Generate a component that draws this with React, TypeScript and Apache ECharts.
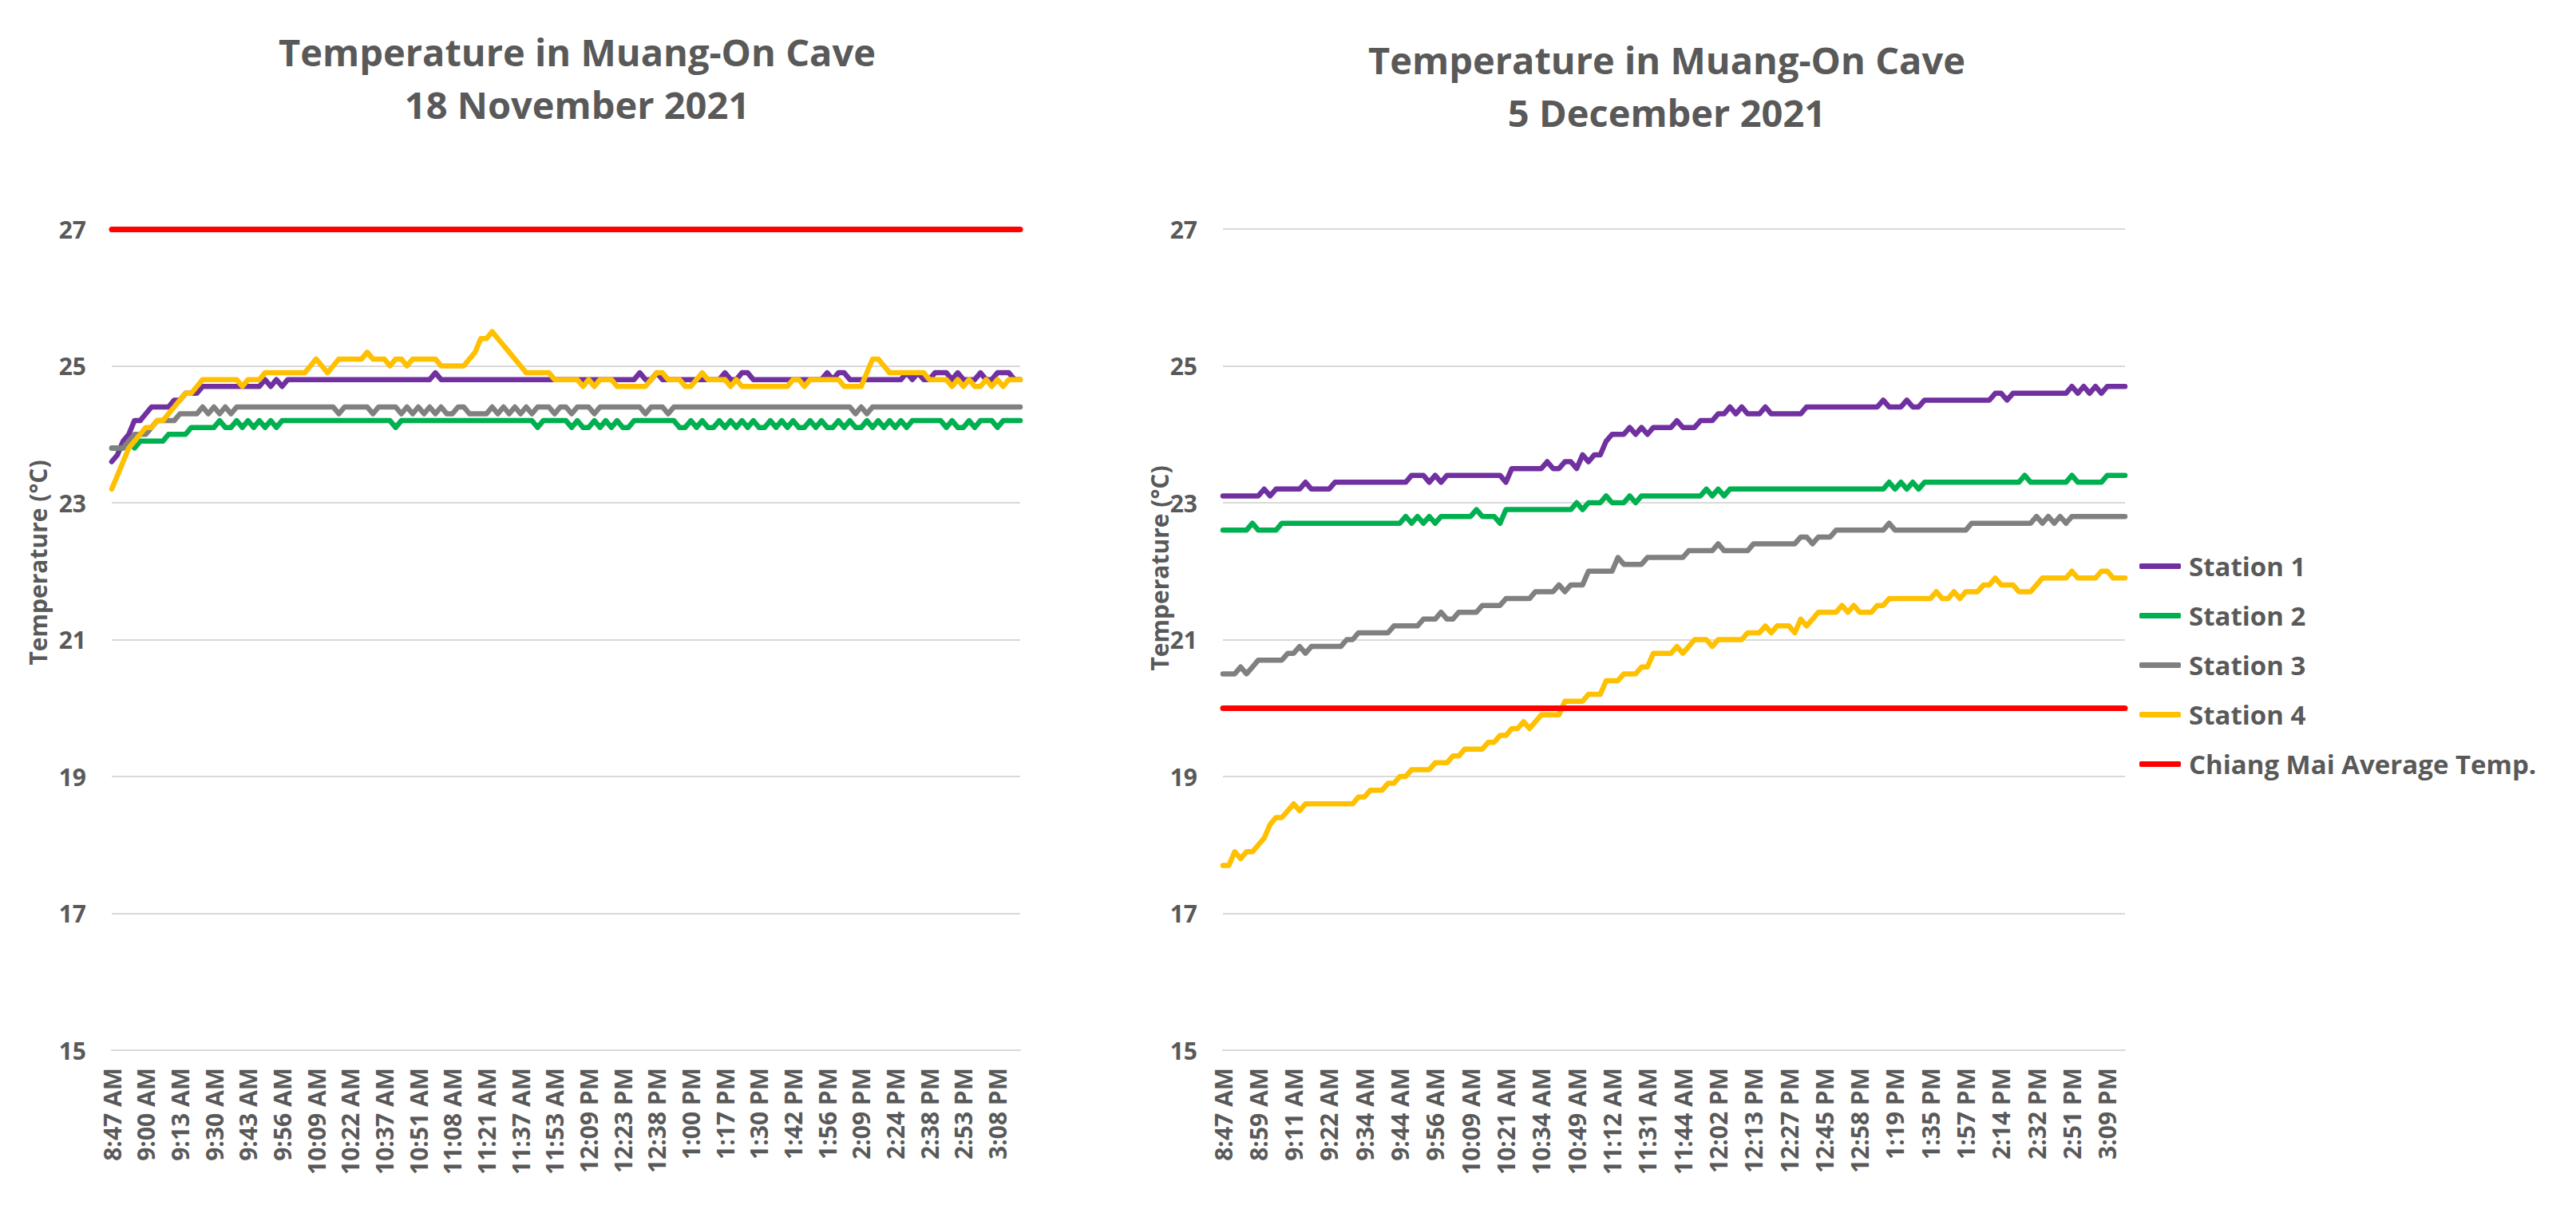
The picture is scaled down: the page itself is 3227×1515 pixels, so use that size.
import React, { useEffect, useRef } from "react";
import * as echarts from "echarts";

// ---------- tick labels ----------
const NOV_TICKS = [
  "8:47 AM", "9:00 AM", "9:13 AM", "9:30 AM", "9:43 AM", "9:56 AM", "10:09 AM",
  "10:22 AM", "10:37 AM", "10:51 AM", "11:08 AM", "11:21 AM", "11:37 AM", "11:53 AM",
  "12:09 PM", "12:23 PM", "12:38 PM", "1:00 PM", "1:17 PM", "1:30 PM", "1:42 PM",
  "1:56 PM", "2:09 PM", "2:24 PM", "2:38 PM", "2:53 PM", "3:08 PM",
];
const DEC_TICKS = [
  "8:47 AM", "8:59 AM", "9:11 AM", "9:22 AM", "9:34 AM", "9:44 AM", "9:56 AM",
  "10:09 AM", "10:21 AM", "10:34 AM", "10:49 AM", "11:12 AM", "11:31 AM", "11:44 AM",
  "12:02 PM", "12:13 PM", "12:27 PM", "12:45 PM", "12:58 PM", "1:19 PM", "1:35 PM",
  "1:57 PM", "2:14 PM", "2:32 PM", "2:51 PM", "3:09 PM",
];
// one tick label every 6 samples
const SAMPLES_PER_TICK = 6;

const SERIES_NAMES = ["Station 1", "Station 2", "Station 3", "Station 4"];
const AVG_NAME = "Chiang Mai Average Temp.";
const NOV_AVERAGE = 27;
const DEC_AVERAGE = 20;

// ---------- 18 November 2021 ----------
const NOV_STATION_1 = [
  23.6, 23.7, 23.9, 24.0, 24.2, 24.2, 24.3, 24.4, 24.4, 24.4,
  24.4, 24.5, 24.5, 24.6, 24.6, 24.6, 24.7, 24.7, 24.7, 24.7,
  24.7, 24.7, 24.7, 24.7, 24.7, 24.7, 24.7, 24.8, 24.7, 24.8,
  24.7, 24.8, 24.8, 24.8, 24.8, 24.8, 24.8, 24.8, 24.8, 24.8,
  24.8, 24.8, 24.8, 24.8, 24.8, 24.8, 24.8, 24.8, 24.8, 24.8,
  24.8, 24.8, 24.8, 24.8, 24.8, 24.8, 24.8, 24.9, 24.8, 24.8,
  24.8, 24.8, 24.8, 24.8, 24.8, 24.8, 24.8, 24.8, 24.8, 24.8,
  24.8, 24.8, 24.8, 24.8, 24.8, 24.8, 24.8, 24.8, 24.8, 24.8,
  24.8, 24.8, 24.8, 24.8, 24.8, 24.8, 24.8, 24.8, 24.8, 24.8,
  24.8, 24.8, 24.8, 24.9, 24.8, 24.8, 24.9, 24.8, 24.8, 24.8,
  24.8, 24.8, 24.8, 24.8, 24.8, 24.8, 24.8, 24.8, 24.9, 24.8,
  24.8, 24.9, 24.9, 24.8, 24.8, 24.8, 24.8, 24.8, 24.8, 24.8,
  24.8, 24.8, 24.8, 24.8, 24.8, 24.8, 24.9, 24.8, 24.9, 24.9,
  24.8, 24.8, 24.8, 24.8, 24.8, 24.8, 24.8, 24.8, 24.8, 24.8,
  24.9, 24.8, 24.9, 24.8, 24.8, 24.9, 24.9, 24.9, 24.8, 24.9,
  24.8, 24.8, 24.8, 24.9, 24.8, 24.8, 24.9, 24.9, 24.9, 24.8,
  24.8,
];
const NOV_STATION_2 = [
  23.8, 23.8, 23.8, 23.9, 23.8, 23.9, 23.9, 23.9, 23.9, 23.9,
  24.0, 24.0, 24.0, 24.0, 24.1, 24.1, 24.1, 24.1, 24.1, 24.2,
  24.1, 24.1, 24.2, 24.1, 24.2, 24.1, 24.2, 24.1, 24.2, 24.1,
  24.2, 24.2, 24.2, 24.2, 24.2, 24.2, 24.2, 24.2, 24.2, 24.2,
  24.2, 24.2, 24.2, 24.2, 24.2, 24.2, 24.2, 24.2, 24.2, 24.2,
  24.1, 24.2, 24.2, 24.2, 24.2, 24.2, 24.2, 24.2, 24.2, 24.2,
  24.2, 24.2, 24.2, 24.2, 24.2, 24.2, 24.2, 24.2, 24.2, 24.2,
  24.2, 24.2, 24.2, 24.2, 24.2, 24.1, 24.2, 24.2, 24.2, 24.2,
  24.2, 24.1, 24.2, 24.1, 24.1, 24.2, 24.1, 24.2, 24.1, 24.2,
  24.1, 24.1, 24.2, 24.2, 24.2, 24.2, 24.2, 24.2, 24.2, 24.2,
  24.1, 24.1, 24.2, 24.1, 24.2, 24.1, 24.1, 24.2, 24.1, 24.2,
  24.1, 24.2, 24.1, 24.2, 24.1, 24.1, 24.2, 24.1, 24.2, 24.1,
  24.2, 24.1, 24.1, 24.2, 24.1, 24.2, 24.1, 24.1, 24.2, 24.1,
  24.2, 24.1, 24.1, 24.2, 24.1, 24.2, 24.1, 24.2, 24.1, 24.2,
  24.1, 24.2, 24.2, 24.2, 24.2, 24.2, 24.2, 24.1, 24.2, 24.1,
  24.1, 24.2, 24.1, 24.2, 24.2, 24.2, 24.1, 24.2, 24.2, 24.2,
  24.2,
];
const NOV_STATION_3 = [
  23.8, 23.8, 23.8, 23.9, 24.0, 24.0, 24.0, 24.1, 24.2, 24.2,
  24.2, 24.2, 24.3, 24.3, 24.3, 24.3, 24.4, 24.3, 24.4, 24.3,
  24.4, 24.3, 24.4, 24.4, 24.4, 24.4, 24.4, 24.4, 24.4, 24.4,
  24.4, 24.4, 24.4, 24.4, 24.4, 24.4, 24.4, 24.4, 24.4, 24.4,
  24.3, 24.4, 24.4, 24.4, 24.4, 24.4, 24.3, 24.4, 24.4, 24.4,
  24.4, 24.3, 24.4, 24.3, 24.4, 24.3, 24.4, 24.3, 24.4, 24.3,
  24.3, 24.4, 24.4, 24.3, 24.3, 24.3, 24.3, 24.4, 24.3, 24.4,
  24.3, 24.4, 24.3, 24.4, 24.3, 24.4, 24.4, 24.4, 24.3, 24.4,
  24.4, 24.3, 24.4, 24.4, 24.4, 24.3, 24.4, 24.4, 24.4, 24.4,
  24.4, 24.4, 24.4, 24.4, 24.3, 24.4, 24.4, 24.4, 24.3, 24.4,
  24.4, 24.4, 24.4, 24.4, 24.4, 24.4, 24.4, 24.4, 24.4, 24.4,
  24.4, 24.4, 24.4, 24.4, 24.4, 24.4, 24.4, 24.4, 24.4, 24.4,
  24.4, 24.4, 24.4, 24.4, 24.4, 24.4, 24.4, 24.4, 24.4, 24.4,
  24.4, 24.3, 24.4, 24.3, 24.4, 24.4, 24.4, 24.4, 24.4, 24.4,
  24.4, 24.4, 24.4, 24.4, 24.4, 24.4, 24.4, 24.4, 24.4, 24.4,
  24.4, 24.4, 24.4, 24.4, 24.4, 24.4, 24.4, 24.4, 24.4, 24.4,
  24.4,
];
const NOV_STATION_4 = [
  23.2, 23.4, 23.6, 23.8, 23.9, 24.0, 24.1, 24.1, 24.2, 24.2,
  24.3, 24.4, 24.5, 24.6, 24.6, 24.7, 24.8, 24.8, 24.8, 24.8,
  24.8, 24.8, 24.8, 24.7, 24.8, 24.8, 24.8, 24.9, 24.9, 24.9,
  24.9, 24.9, 24.9, 24.9, 24.9, 25.0, 25.1, 25.0, 24.9, 25.0,
  25.1, 25.1, 25.1, 25.1, 25.1, 25.2, 25.1, 25.1, 25.1, 25.0,
  25.1, 25.1, 25.0, 25.1, 25.1, 25.1, 25.1, 25.1, 25.0, 25.0,
  25.0, 25.0, 25.0, 25.1, 25.2, 25.4, 25.4, 25.5, 25.4, 25.3,
  25.2, 25.1, 25.0, 24.9, 24.9, 24.9, 24.9, 24.9, 24.8, 24.8,
  24.8, 24.8, 24.8, 24.7, 24.8, 24.7, 24.8, 24.8, 24.8, 24.7,
  24.7, 24.7, 24.7, 24.7, 24.7, 24.8, 24.9, 24.9, 24.8, 24.8,
  24.8, 24.7, 24.7, 24.8, 24.9, 24.8, 24.8, 24.8, 24.8, 24.7,
  24.8, 24.7, 24.7, 24.7, 24.7, 24.7, 24.7, 24.7, 24.7, 24.7,
  24.8, 24.8, 24.7, 24.8, 24.8, 24.8, 24.8, 24.8, 24.8, 24.7,
  24.7, 24.7, 24.7, 24.9, 25.1, 25.1, 25.0, 24.9, 24.9, 24.9,
  24.9, 24.9, 24.9, 24.9, 24.8, 24.8, 24.8, 24.8, 24.7, 24.8,
  24.7, 24.8, 24.7, 24.7, 24.8, 24.7, 24.8, 24.7, 24.8, 24.8,
  24.8,
];

// ---------- 5 December 2021 ----------
const DEC_STATION_1 = [
  23.1, 23.1, 23.1, 23.1, 23.1, 23.1, 23.1, 23.2, 23.1, 23.2,
  23.2, 23.2, 23.2, 23.2, 23.3, 23.2, 23.2, 23.2, 23.2, 23.3,
  23.3, 23.3, 23.3, 23.3, 23.3, 23.3, 23.3, 23.3, 23.3, 23.3,
  23.3, 23.3, 23.4, 23.4, 23.4, 23.3, 23.4, 23.3, 23.4, 23.4,
  23.4, 23.4, 23.4, 23.4, 23.4, 23.4, 23.4, 23.4, 23.3, 23.5,
  23.5, 23.5, 23.5, 23.5, 23.5, 23.6, 23.5, 23.5, 23.6, 23.6,
  23.5, 23.7, 23.6, 23.7, 23.7, 23.9, 24.0, 24.0, 24.0, 24.1,
  24.0, 24.1, 24.0, 24.1, 24.1, 24.1, 24.1, 24.2, 24.1, 24.1,
  24.1, 24.2, 24.2, 24.2, 24.3, 24.3, 24.4, 24.3, 24.4, 24.3,
  24.3, 24.3, 24.4, 24.3, 24.3, 24.3, 24.3, 24.3, 24.3, 24.4,
  24.4, 24.4, 24.4, 24.4, 24.4, 24.4, 24.4, 24.4, 24.4, 24.4,
  24.4, 24.4, 24.5, 24.4, 24.4, 24.4, 24.5, 24.4, 24.4, 24.5,
  24.5, 24.5, 24.5, 24.5, 24.5, 24.5, 24.5, 24.5, 24.5, 24.5,
  24.5, 24.6, 24.6, 24.5, 24.6, 24.6, 24.6, 24.6, 24.6, 24.6,
  24.6, 24.6, 24.6, 24.6, 24.7, 24.6, 24.7, 24.6, 24.7, 24.6,
  24.7, 24.7, 24.7, 24.7,
];
const DEC_STATION_2 = [
  22.6, 22.6, 22.6, 22.6, 22.6, 22.7, 22.6, 22.6, 22.6, 22.6,
  22.7, 22.7, 22.7, 22.7, 22.7, 22.7, 22.7, 22.7, 22.7, 22.7,
  22.7, 22.7, 22.7, 22.7, 22.7, 22.7, 22.7, 22.7, 22.7, 22.7,
  22.7, 22.8, 22.7, 22.8, 22.7, 22.8, 22.7, 22.8, 22.8, 22.8,
  22.8, 22.8, 22.8, 22.9, 22.8, 22.8, 22.8, 22.7, 22.9, 22.9,
  22.9, 22.9, 22.9, 22.9, 22.9, 22.9, 22.9, 22.9, 22.9, 22.9,
  23.0, 22.9, 23.0, 23.0, 23.0, 23.1, 23.0, 23.0, 23.0, 23.1,
  23.0, 23.1, 23.1, 23.1, 23.1, 23.1, 23.1, 23.1, 23.1, 23.1,
  23.1, 23.1, 23.2, 23.1, 23.2, 23.1, 23.2, 23.2, 23.2, 23.2,
  23.2, 23.2, 23.2, 23.2, 23.2, 23.2, 23.2, 23.2, 23.2, 23.2,
  23.2, 23.2, 23.2, 23.2, 23.2, 23.2, 23.2, 23.2, 23.2, 23.2,
  23.2, 23.2, 23.2, 23.3, 23.2, 23.3, 23.2, 23.3, 23.2, 23.3,
  23.3, 23.3, 23.3, 23.3, 23.3, 23.3, 23.3, 23.3, 23.3, 23.3,
  23.3, 23.3, 23.3, 23.3, 23.3, 23.3, 23.4, 23.3, 23.3, 23.3,
  23.3, 23.3, 23.3, 23.3, 23.4, 23.3, 23.3, 23.3, 23.3, 23.3,
  23.4, 23.4, 23.4, 23.4,
];
const DEC_STATION_3 = [
  20.5, 20.5, 20.5, 20.6, 20.5, 20.6, 20.7, 20.7, 20.7, 20.7,
  20.7, 20.8, 20.8, 20.9, 20.8, 20.9, 20.9, 20.9, 20.9, 20.9,
  20.9, 21.0, 21.0, 21.1, 21.1, 21.1, 21.1, 21.1, 21.1, 21.2,
  21.2, 21.2, 21.2, 21.2, 21.3, 21.3, 21.3, 21.4, 21.3, 21.3,
  21.4, 21.4, 21.4, 21.4, 21.5, 21.5, 21.5, 21.5, 21.6, 21.6,
  21.6, 21.6, 21.6, 21.7, 21.7, 21.7, 21.7, 21.8, 21.7, 21.8,
  21.8, 21.8, 22.0, 22.0, 22.0, 22.0, 22.0, 22.2, 22.1, 22.1,
  22.1, 22.1, 22.2, 22.2, 22.2, 22.2, 22.2, 22.2, 22.2, 22.3,
  22.3, 22.3, 22.3, 22.3, 22.4, 22.3, 22.3, 22.3, 22.3, 22.3,
  22.4, 22.4, 22.4, 22.4, 22.4, 22.4, 22.4, 22.4, 22.5, 22.5,
  22.4, 22.5, 22.5, 22.5, 22.6, 22.6, 22.6, 22.6, 22.6, 22.6,
  22.6, 22.6, 22.6, 22.7, 22.6, 22.6, 22.6, 22.6, 22.6, 22.6,
  22.6, 22.6, 22.6, 22.6, 22.6, 22.6, 22.6, 22.7, 22.7, 22.7,
  22.7, 22.7, 22.7, 22.7, 22.7, 22.7, 22.7, 22.7, 22.8, 22.7,
  22.8, 22.7, 22.8, 22.7, 22.8, 22.8, 22.8, 22.8, 22.8, 22.8,
  22.8, 22.8, 22.8, 22.8,
];
const DEC_STATION_4 = [
  17.7, 17.7, 17.9, 17.8, 17.9, 17.9, 18.0, 18.1, 18.3, 18.4,
  18.4, 18.5, 18.6, 18.5, 18.6, 18.6, 18.6, 18.6, 18.6, 18.6,
  18.6, 18.6, 18.6, 18.7, 18.7, 18.8, 18.8, 18.8, 18.9, 18.9,
  19.0, 19.0, 19.1, 19.1, 19.1, 19.1, 19.2, 19.2, 19.2, 19.3,
  19.3, 19.4, 19.4, 19.4, 19.4, 19.5, 19.5, 19.6, 19.6, 19.7,
  19.7, 19.8, 19.7, 19.8, 19.9, 19.9, 19.9, 19.9, 20.1, 20.1,
  20.1, 20.1, 20.2, 20.2, 20.2, 20.4, 20.4, 20.4, 20.5, 20.5,
  20.5, 20.6, 20.6, 20.8, 20.8, 20.8, 20.8, 20.9, 20.8, 20.9,
  21.0, 21.0, 21.0, 20.9, 21.0, 21.0, 21.0, 21.0, 21.0, 21.1,
  21.1, 21.1, 21.2, 21.1, 21.2, 21.2, 21.2, 21.1, 21.3, 21.2,
  21.3, 21.4, 21.4, 21.4, 21.4, 21.5, 21.4, 21.5, 21.4, 21.4,
  21.4, 21.5, 21.5, 21.6, 21.6, 21.6, 21.6, 21.6, 21.6, 21.6,
  21.6, 21.7, 21.6, 21.6, 21.7, 21.6, 21.7, 21.7, 21.7, 21.8,
  21.8, 21.9, 21.8, 21.8, 21.8, 21.7, 21.7, 21.7, 21.8, 21.9,
  21.9, 21.9, 21.9, 21.9, 22.0, 21.9, 21.9, 21.9, 21.9, 22.0,
  22.0, 21.9, 21.9, 21.9,
];

// ---------- styling ----------
const FONT = '"Open Sans", "Noto Sans", sans-serif';
const TEXT_COLOR = "#595959";
const GRID_COLOR = "#D9D9D9";
const STATION_COLORS = ["#7030A0", "#00B050", "#808080", "#FFC000"];
const AVG_COLOR = "#FF0000";

function makeXAxis(gridIndex: number, ticks: string[], count: number) {
  return {
    type: "category",
    gridIndex,
    boundaryGap: false,
    data: Array.from({ length: count }, (_, i) => String(i)),
    axisLine: { show: true, lineStyle: { color: GRID_COLOR, width: 2 } },
    axisTick: { show: false },
    splitLine: { show: false },
    axisLabel: {
      interval: (index: number) => index % SAMPLES_PER_TICK === 0,
      formatter: (value: string) => {
        const i = Number(value);
        return i % SAMPLES_PER_TICK === 0 ? ticks[i / SAMPLES_PER_TICK] ?? "" : "";
      },
      rotate: 90,
      margin: 22,
      color: TEXT_COLOR,
      fontSize: 30,
      fontWeight: "bold",
      fontFamily: FONT,
    },
  };
}

function makeYAxis(gridIndex: number) {
  return {
    type: "value",
    gridIndex,
    min: 15,
    max: 27,
    interval: 2,
    axisLine: { show: false },
    axisTick: { show: false },
    splitLine: { show: true, lineStyle: { color: GRID_COLOR, width: 2 } },
    axisLabel: {
      margin: 32,
      color: TEXT_COLOR,
      fontSize: 30,
      fontWeight: "bold",
      fontFamily: FONT,
    },
  };
}

function stationSeries(name: string, data: number[], color: string, axis: number) {
  return {
    name,
    type: "line",
    xAxisIndex: axis,
    yAxisIndex: axis,
    data,
    symbol: "none",
    showSymbol: false,
    color,
    itemStyle: { color },
    lineStyle: { color, width: 6.5, cap: "round", join: "round" },
    emphasis: { disabled: true },
    silent: true,
    z: 2,
  };
}

function averageSeries(value: number, axis: number) {
  return {
    name: AVG_NAME,
    type: "line",
    xAxisIndex: axis,
    yAxisIndex: axis,
    data: [],
    symbol: "none",
    color: AVG_COLOR,
    itemStyle: { color: AVG_COLOR },
    lineStyle: { color: AVG_COLOR, width: 7 },
    silent: true,
    z: 3,
    markLine: {
      silent: true,
      symbol: ["none", "none"],
      label: { show: false },
      emphasis: { disabled: true },
      lineStyle: { color: AVG_COLOR, width: 7, type: "solid", cap: "round" },
      data: [{ yAxis: value }],
    },
  };
}

function titleStyle() {
  return {
    color: TEXT_COLOR,
    fontSize: 47,
    fontWeight: "bold",
    fontFamily: FONT,
    lineHeight: 66,
  };
}

function axisName(x: number, y: number) {
  return {
    type: "text",
    x,
    y,
    rotation: Math.PI / 2,
    style: {
      text: "Temperature (°C)",
      fill: TEXT_COLOR,
      fontSize: 30,
      fontWeight: "bold",
      fontFamily: FONT,
      align: "center",
      verticalAlign: "middle",
    },
  };
}

function buildOption() {
  const novStations = [NOV_STATION_1, NOV_STATION_2, NOV_STATION_3, NOV_STATION_4];
  const decStations = [DEC_STATION_1, DEC_STATION_2, DEC_STATION_3, DEC_STATION_4];
  return {
    animation: false,
    backgroundColor: "#FFFFFF",
    title: [
      {
        text: "Temperature in Muang-On Cave\n18 November 2021",
        left: 718,
        top: 27,
        textAlign: "center",
        textStyle: titleStyle(),
      },
      {
        text: "Temperature in Muang-On Cave\n5 December 2021",
        left: 2083,
        top: 37,
        textAlign: "center",
        textStyle: titleStyle(),
      },
    ],
    grid: [
      { left: 140, top: 287, width: 1138, height: 1029 },
      { left: 1532, top: 287, width: 1130, height: 1029 },
    ],
    xAxis: [
      makeXAxis(0, NOV_TICKS, NOV_STATION_1.length),
      makeXAxis(1, DEC_TICKS, DEC_STATION_1.length),
    ],
    yAxis: [makeYAxis(0), makeYAxis(1)],
    legend: {
      orient: "vertical",
      left: 2675,
      top: 688,
      itemWidth: 52,
      itemHeight: 7,
      itemGap: 29,
      icon: "roundRect",
      selectedMode: false,
      data: [...SERIES_NAMES, AVG_NAME],
      textStyle: {
        color: TEXT_COLOR,
        fontSize: 33,
        fontWeight: "bold",
        fontFamily: FONT,
        lineHeight: 33,
        padding: [0, 0, 0, 5],
      },
    },
    graphic: [axisName(47, 705), axisName(1452, 712)],
    series: [
      ...novStations.map((d, i) => stationSeries(SERIES_NAMES[i], d, STATION_COLORS[i], 0)),
      averageSeries(NOV_AVERAGE, 0),
      ...decStations.map((d, i) => stationSeries(SERIES_NAMES[i], d, STATION_COLORS[i], 1)),
      averageSeries(DEC_AVERAGE, 1),
    ],
  };
}

export default function App() {
  const ref = useRef<HTMLDivElement>(null);
  useEffect(() => {
    document.body.style.margin = "0";
    if (!ref.current) return;
    const chart = echarts.init(ref.current, null, { renderer: "svg" });
    chart.setOption(buildOption() as any);
    return () => chart.dispose();
  }, []);
  return <div ref={ref} style={{ width: 3227, height: 1515, background: "#fff" }} />;
}
